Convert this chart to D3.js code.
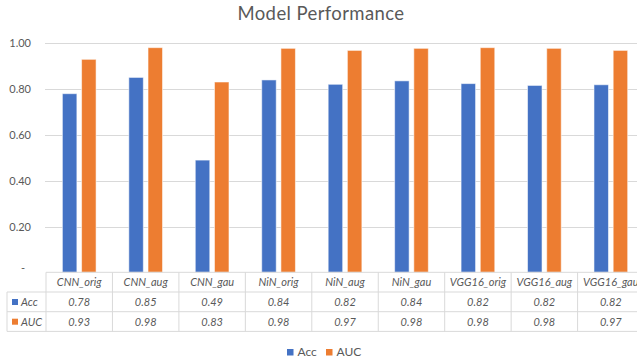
<!DOCTYPE html>
<html>
<head>
<meta charset="utf-8">
<script src="https://cdn.jsdelivr.net/npm/d3@7"></script>
<style>
  body { margin: 0; background: #fff; }
  text { font-family: Lato, "Open Sans", sans-serif; fill: #595959; }
</style>
</head>
<body>
<div id="chart"></div>
<script>
// data
const categories = ["CNN_orig", "CNN_aug", "CNN_gau", "NiN_orig", "NiN_aug", "NiN_gau", "VGG16_orig", "VGG16_aug", "VGG16_gau"];
const seriesNames = ["Acc", "AUC"];
const accValues = [0.78, 0.851, 0.49, 0.84, 0.821, 0.836, 0.824, 0.816, 0.819];
const aucValues = [0.93, 0.981, 0.831, 0.978, 0.969, 0.978, 0.981, 0.978, 0.969];
const yTicks = [0.2, 0.4, 0.6, 0.8, 1.0];
const colors = {Acc: "#4472C4", AUC: "#ED7D31"};

const W = 637, H = 362;
const plotLeft = 46, colW = 66.45;
const yTop = 43.3, yBase = 272.3;
const rowH = 19.7;

const svg = d3.select("#chart").append("svg")
  .attr("width", W).attr("height", H);

const values = {Acc: accValues, AUC: aucValues};
const data = categories.map((c, i) => ({cat: c, Acc: accValues[i], AUC: aucValues[i]}));

const x0 = d3.scaleBand().domain(categories)
  .range([plotLeft, plotLeft + colW * categories.length]);
const x1 = d3.scaleBand().domain(seriesNames)
  .range([0, x0.bandwidth()]).paddingInner(0.245).paddingOuter(0.853);
const y = d3.scaleLinear().domain([0, 1]).range([yBase, yTop]);

// title
svg.append("text")
  .attr("x", 321).attr("y", 20)
  .attr("text-anchor", "middle")
  .style("font-size", "18.5px")
  .style("letter-spacing", "0.4px")
  .text("Model Performance");

// gridlines
svg.append("g").selectAll("line")
  .data(yTicks).join("line")
  .attr("x1", plotLeft - 1).attr("x2", W)
  .attr("y1", d => Math.round(y(d)) + 0.5).attr("y2", d => Math.round(y(d)) + 0.5)
  .attr("stroke", "#d9d9d9").attr("stroke-width", 1);

// y axis labels
const yAxis = svg.append("g")
  .attr("transform", `translate(31,0)`)
  .call(d3.axisLeft(y).tickValues([0].concat(yTicks)).tickSize(0)
    .tickFormat(d => d === 0 ? "-" : d3.format(".2f")(d)));
yAxis.select(".domain").remove();
yAxis.selectAll("text")
  .attr("x", 0)
  .style("font-family", "Lato, sans-serif")
  .style("font-size", "11px")
  .attr("fill", "#595959");
yAxis.selectAll(".tick").filter(d => d === 0).select("text")
  .attr("x", -6).attr("dy", "-0.1em");

// bars
svg.append("g").selectAll("g")
  .data(data).join("g")
  .attr("transform", d => `translate(${x0(d.cat)},0)`)
  .selectAll("rect")
  .data(d => seriesNames.map(s => ({s, v: d[s]})))
  .join("rect")
  .attr("x", d => x1(d.s))
  .attr("width", x1.bandwidth())
  .attr("y", d => y(d.v))
  .attr("height", d => y(0) - y(d.v))
  .attr("fill", d => colors[d.s])
  .attr("stroke", "rgba(255,255,255,0.55)")
  .attr("stroke-width", 1);

// data table
const tbl = svg.append("g");
const tableLeft = 7;
const rows = [yBase, yBase + rowH, yBase + 2 * rowH, yBase + 3 * rowH];
const gridC = "#d9d9d9";
const tableRight = x0.range()[1];

// horizontal lines
tbl.append("line").attr("x1", plotLeft).attr("x2", tableRight)
  .attr("y1", rows[0]).attr("y2", rows[0]).attr("stroke", gridC);
rows.slice(1).forEach(r => {
  tbl.append("line").attr("x1", tableLeft).attr("x2", tableRight)
    .attr("y1", r).attr("y2", r).attr("stroke", gridC);
});
// vertical lines
tbl.append("line").attr("x1", tableLeft).attr("x2", tableLeft)
  .attr("y1", rows[1]).attr("y2", rows[3]).attr("stroke", gridC);
categories.forEach(c => {
  tbl.append("line").attr("x1", x0(c)).attr("x2", x0(c))
    .attr("y1", rows[0]).attr("y2", rows[3]).attr("stroke", gridC);
});

// header labels
tbl.selectAll("text.hdr")
  .data(categories).join("text")
  .attr("class", "hdr")
  .attr("x", d => x0(d) + x0.bandwidth() / 2)
  .attr("y", rows[0] + 13.5)
  .attr("text-anchor", "middle")
  .style("font-size", "11px").style("font-style", "italic")
  .text(d => d);

// series rows
seriesNames.forEach((s, i) => {
  const ry = rows[i + 1];
  tbl.append("rect")
    .attr("x", 12).attr("y", ry + 7).attr("width", 6).attr("height", 6)
    .attr("fill", colors[s]);
  tbl.append("text")
    .attr("x", 21).attr("y", ry + 14)
    .style("font-size", "11px").style("font-style", "italic")
    .text(s);
  tbl.selectAll("text.v" + s)
    .data(values[s]).join("text")
    .attr("class", "v" + s)
    .attr("x", (d, j) => x0(categories[j]) + x0.bandwidth() / 2)
    .attr("y", ry + 14)
    .attr("text-anchor", "middle")
    .style("font-size", "11px").style("font-style", "italic")
    .text(d => d3.format(".2f")(d));
});

// legend
const legend = svg.append("g").attr("transform", "translate(287,349)");
const legX = [0, 39];
seriesNames.forEach((s, i) => {
  const lg = legend.append("g").attr("transform", `translate(${legX[i]},0)`);
  lg.append("rect").attr("width", 6.5).attr("height", 6.5).attr("fill", colors[s]);
  lg.append("text").attr("x", 10.5).attr("y", 7)
    .style("font-size", "12px").text(s);
});
</script>
</body>
</html>
